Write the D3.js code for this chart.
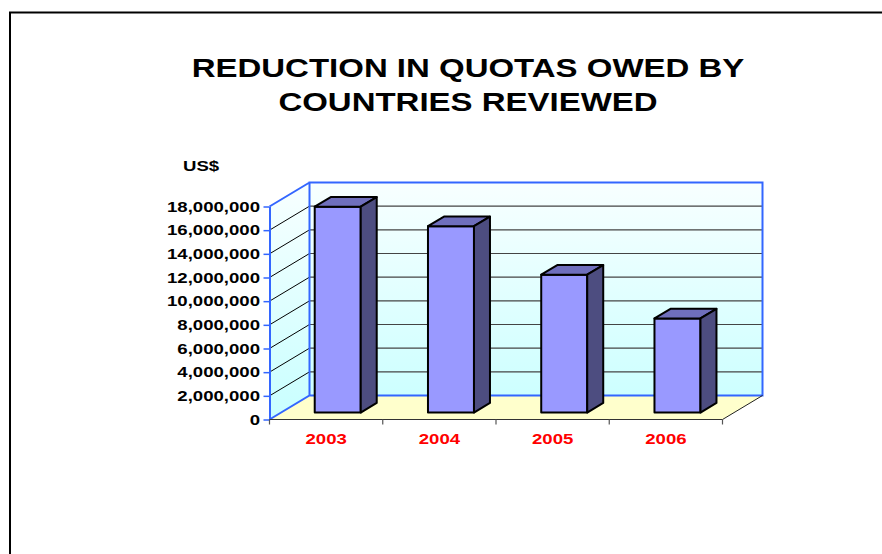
<!DOCTYPE html>
<html>
<head>
<meta charset="utf-8">
<script src="https://cdn.jsdelivr.net/npm/d3@7"></script>
<style>
  html, body { margin: 0; padding: 0; background: #fff; }
  svg { display: block; }
  text { font-family: "Liberation Sans", Arial, sans-serif; font-weight: bold; }
</style>
</head>
<body>
<svg id="chart" width="882" height="554"></svg>
<script>
// ---- data ----
const titleLines = ["REDUCTION IN QUOTAS OWED BY", "COUNTRIES REVIEWED"];
const unitLabel = "US$";
const years = ["2003", "2004", "2005", "2006"];
const values = [17400000, 15750000, 11650000, 7950000];
const yTicks = [0, 2000000, 4000000, 6000000, 8000000, 10000000, 12000000, 14000000, 16000000, 18000000];

// ---- layout ----
const W = 882, H = 554;
const stretch = 1.24;            // horizontal text stretch seen in reference
const front = { x0: 269.5, x1: 722.5, y0: 419.5, yTop: 206.5 };
const depth = { dx: 40, dy: -24 };
const barT = 0.29;               // bar front face position in depth (fraction)
const barD = 0.4;                // bar depth (fraction)
const barW = 46;

const svg = d3.select("#chart");

// outer frame
svg.append("path")
  .attr("d", `M10,${H} L10,12.5 L${W},12.5`)
  .attr("fill", "none").attr("stroke", "#000").attr("stroke-width", 2);

// title
titleLines.forEach((t, i) => {
  svg.append("text")
    .attr("transform", `translate(468,${76.5 + i * 34}) scale(${stretch},1)`)
    .attr("text-anchor", "middle")
    .attr("font-size", 26.6)
    .attr("fill", "#000")
    .text(t);
});

svg.append("text")
  .attr("transform", `translate(183,171) scale(${stretch},1)`)
  .attr("font-size", 15)
  .text(unitLabel);

// scales
const y = d3.scaleLinear().domain([0, 18000000]).range([front.y0, front.yTop]);
const x = d3.scaleBand().domain(years).range([front.x0, front.x1]).paddingInner(0).paddingOuter(0);

// gradient
const defs = svg.append("defs");
const grad = defs.append("linearGradient").attr("id", "wallGrad")
  .attr("gradientUnits", "userSpaceOnUse")
  .attr("x1", 0).attr("x2", 0)
  .attr("y1", front.yTop + depth.dy).attr("y2", front.y0);
grad.append("stop").attr("offset", 0).attr("stop-color", "#f8ffff");
grad.append("stop").attr("offset", 1).attr("stop-color", "#c8ffff");

const bx0 = front.x0 + depth.dx, bx1 = front.x1 + depth.dx;
const by = v => y(v) + depth.dy;

// back wall
svg.append("rect")
  .attr("x", bx0).attr("y", by(18000000))
  .attr("width", bx1 - bx0).attr("height", by(0) - by(18000000))
  .attr("fill", "url(#wallGrad)");

// left wall
svg.append("polygon")
  .attr("points", [[front.x0, y(18000000)], [bx0, by(18000000)], [bx0, by(0)], [front.x0, y(0)]].join(" "))
  .attr("fill", "url(#wallGrad)");

// floor
svg.append("polygon")
  .attr("points", [[front.x0, y(0)], [front.x1, y(0)], [bx1, by(0)], [bx0, by(0)]].join(" "))
  .attr("fill", "#ffffcc");

// gridlines
const grid = yTicks.filter(v => v > 0 && v < 18000000);
svg.append("g").selectAll("line").data(grid).join("line")
  .attr("x1", bx0).attr("x2", bx1)
  .attr("y1", d => by(d)).attr("y2", d => by(d))
  .attr("stroke", "#444").attr("stroke-width", 1.2);
svg.append("g").selectAll("line").data(grid).join("line")
  .attr("x1", front.x0).attr("x2", bx0)
  .attr("y1", d => y(d)).attr("y2", d => by(d))
  .attr("stroke", "#000").attr("stroke-width", 1);

// blue wall borders
const blue = "#3366ff";
svg.append("path")
  .attr("d", `M${front.x0},${y(0)} L${bx0},${by(0)} L${bx1},${by(0)} L${bx1},${by(18000000)} L${bx0},${by(18000000)} L${bx0},${by(0)}
              M${front.x0},${y(18000000)} L${bx0},${by(18000000)}`)
  .attr("fill", "none").attr("stroke", blue).attr("stroke-width", 2);

// floor right edge
svg.append("line")
  .attr("x1", front.x1).attr("y1", y(0)).attr("x2", bx1).attr("y2", by(0))
  .attr("stroke", "#222").attr("stroke-width", 1);

// bars
const bars = svg.append("g").selectAll("g").data(years.map((yr, i) => ({ yr, v: values[i] }))).join("g");
const ox = barT * depth.dx, oy = barT * depth.dy;
const sx = barD * depth.dx, sy = barD * depth.dy;
bars.each(function(d) {
  const g = d3.select(this);
  const xl = x(d.yr) + (x.bandwidth() - barW) / 2 + ox;
  const xr = xl + barW;
  const yt = y(d.v) + oy;
  const yb = y(0) + oy;
  g.append("polygon")
    .attr("points", [[xl, yt], [xr, yt], [xr, yb], [xl, yb]].join(" "))
    .attr("fill", "#9999ff").attr("stroke", "#000").attr("stroke-width", 2).attr("stroke-linejoin", "round");
  g.append("polygon")
    .attr("points", [[xl, yt], [xr, yt], [xr + sx, yt + sy], [xl + sx, yt + sy]].join(" "))
    .attr("fill", "#6f6fbd").attr("stroke", "#000").attr("stroke-width", 2).attr("stroke-linejoin", "round");
  g.append("polygon")
    .attr("points", [[xr, yt], [xr + sx, yt + sy], [xr + sx, yb + sy], [xr, yb]].join(" "))
    .attr("fill", "#4d4d80").attr("stroke", "#000").attr("stroke-width", 2).attr("stroke-linejoin", "round");
});

// y axis
const yAxis = d3.axisLeft(y).tickValues(yTicks).tickFormat(d3.format(",")).tickSize(6).tickSizeOuter(0);
const ya = svg.append("g").attr("transform", `translate(${front.x0},0)`).call(yAxis);
ya.select(".domain").attr("stroke", blue).attr("stroke-width", 2);
ya.selectAll(".tick line").attr("stroke", blue).attr("stroke-width", 1.5);
ya.selectAll(".tick text")
  .attr("x", -9.5 / stretch)
  .attr("transform", `scale(${stretch},1)`)
  .attr("font-size", 15)
  .attr("font-family", "'Liberation Sans', Arial, sans-serif")
  .attr("font-weight", "bold")
  .attr("fill", "#000");

// x axis (front floor edge + boundary ticks + labels)
const xa = svg.append("g").attr("transform", `translate(0,${front.y0})`);
xa.append("line").attr("x1", front.x0).attr("x2", front.x1).attr("y1", 0).attr("y2", 0)
  .attr("stroke", "#333").attr("stroke-width", 1.2);
const bounds = years.map(yr => x(yr)).concat([x(years[years.length - 1]) + x.step()]);
xa.selectAll("line.tk").data(bounds).join("line").attr("class", "tk")
  .attr("x1", d => d).attr("x2", d => d).attr("y1", 0).attr("y2", 5)
  .attr("stroke", "#555").attr("stroke-width", 1.2);
xa.selectAll("text").data(years).join("text")
  .attr("transform", d => `translate(${x(d) + x.bandwidth() / 2},24.5) scale(${stretch},1)`)
  .attr("text-anchor", "middle")
  .attr("font-size", 15)
  .attr("fill", "#ff0000")
  .text(d => d);
</script>
</body>
</html>
